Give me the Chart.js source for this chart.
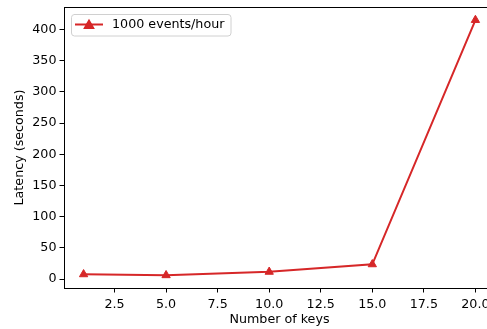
<!DOCTYPE html>
<html>
<head>
<meta charset="utf-8">
<script src="https://cdn.jsdelivr.net/npm/chart.js@4/dist/chart.umd.min.js"></script>
<style>
html,body{margin:0;padding:0;background:#fff;overflow:hidden;width:487px;height:329px;}
#wrap{position:absolute;left:0;top:0;width:520px;height:329px;}
</style>
</head>
<body>
<div id="wrap"><canvas id="c" width="520" height="329"></canvas></div>
<script>
const keys = [1, 5, 10, 15, 20];
const latency = [7.5, 6, 11.5, 23.5, 415];
const seriesLabel = '1000 events/hour';
const xTicks = [2.5, 5, 7.5, 10, 12.5, 15, 17.5, 20];
const yTicks = [0, 50, 100, 150, 200, 250, 300, 350, 400];

const RED = '#d62728';
const FONT = '"DejaVu Sans", sans-serif';
const FS = 12.7;

const frame = {
  id: 'frame',
  afterDraw(chart) {
    const {ctx, chartArea: a} = chart;
    ctx.save();
    ctx.strokeStyle = '#000';
    ctx.lineWidth = 1;
    ctx.strokeRect(Math.round(a.left) + 0.5, Math.round(a.top) + 0.5, a.right - a.left, a.bottom - a.top);
    // legend
    const lx = 71, ly = 14, lw = 160, lh = 22, r = 3;
    ctx.beginPath();
    ctx.moveTo(lx + r, ly + 0.5);
    ctx.arcTo(lx + lw, ly + 0.5, lx + lw, ly + lh, r);
    ctx.arcTo(lx + lw, ly + lh, lx, ly + lh, r);
    ctx.arcTo(lx + 0.5, ly + lh, lx + 0.5, ly, r);
    ctx.arcTo(lx + 0.5, ly + 0.5, lx + lw, ly + 0.5, r);
    ctx.closePath();
    ctx.fillStyle = 'rgba(255,255,255,0.8)';
    ctx.fill();
    ctx.strokeStyle = '#d0d0d0';
    ctx.stroke();
    const cy = ly + 10.5;
    ctx.strokeStyle = RED;
    ctx.lineWidth = 2;
    ctx.beginPath();
    ctx.moveTo(75, cy);
    ctx.lineTo(103, cy);
    ctx.stroke();
    const ds = chart.data.datasets[0];
    Chart.helpers.drawPoint(ctx, {pointStyle: 'triangle', radius: 4.8, rotation: 0, borderWidth: 1}, 89, cy + 1);
    ctx.fillStyle = RED;
    ctx.strokeStyle = RED;
    ctx.lineWidth = 1;
    ctx.fill();
    ctx.stroke();
    ctx.fillStyle = '#000';
    ctx.font = FS + 'px ' + FONT;
    ctx.textBaseline = 'middle';
    ctx.textAlign = 'left';
    ctx.fillText(ds.label, 112, cy);
    ctx.restore();
  }
};

new Chart(document.getElementById('c'), {
  type: 'line',
  data: {
    datasets: [{
      label: seriesLabel,
      data: keys.map((k, i) => ({x: k, y: latency[i]})),
      borderColor: RED,
      backgroundColor: RED,
      borderWidth: 2,
      pointStyle: 'triangle',
      pointRadius: 4.8,
      pointBorderWidth: 1,
      pointBackgroundColor: RED,
      pointBorderColor: RED,
      tension: 0,
      clip: false
    }]
  },
  options: {
    responsive: false,
    devicePixelRatio: 1,
    animation: false,
    layout: {padding: {top: 7, right: 25, left: 0, bottom: 0}},
    plugins: {legend: {display: false}, tooltip: {enabled: false}},
    scales: {
      x: {
        type: 'linear',
        min: 0.05, max: 20.95,
        afterFit(s) { s.height = 41; s.paddingLeft = 0; s.paddingRight = 0; },
        afterBuildTicks(s) { s.ticks = xTicks.map(v => ({value: v})); },
        ticks: {
          callback: v => v.toFixed(1),
          color: '#000', font: {family: FONT, size: FS}, padding: 5, maxRotation: 0, autoSkip: false
        },
        grid: {display: true, drawOnChartArea: false, drawTicks: true, tickLength: 4.5, tickColor: '#000', tickWidth: 1},
        border: {display: true, color: '#000', width: 1},
        title: {display: true, text: 'Number of keys', color: '#000', font: {family: FONT, size: FS}, padding: {top: 0, bottom: 1.5}}
      },
      y: {
        type: 'linear',
        min: -14.4, max: 435.9,
        afterFit(s) { s.width = 64; s.paddingTop = 0; s.paddingBottom = 0; },
        afterBuildTicks(s) { s.ticks = yTicks.map(v => ({value: v})); },
        ticks: {
          color: '#000', font: {family: FONT, size: FS}, padding: 3, autoSkip: false
        },
        grid: {display: true, drawOnChartArea: false, drawTicks: true, tickLength: 4.5, tickColor: '#000', tickWidth: 1},
        border: {display: true, color: '#000', width: 1},
        title: {display: true, text: 'Latency (seconds)', color: '#000', font: {family: FONT, size: FS}, padding: {top: 12, bottom: 0}}
      }
    }
  },
  plugins: [frame]
});
</script>
</body>
</html>
